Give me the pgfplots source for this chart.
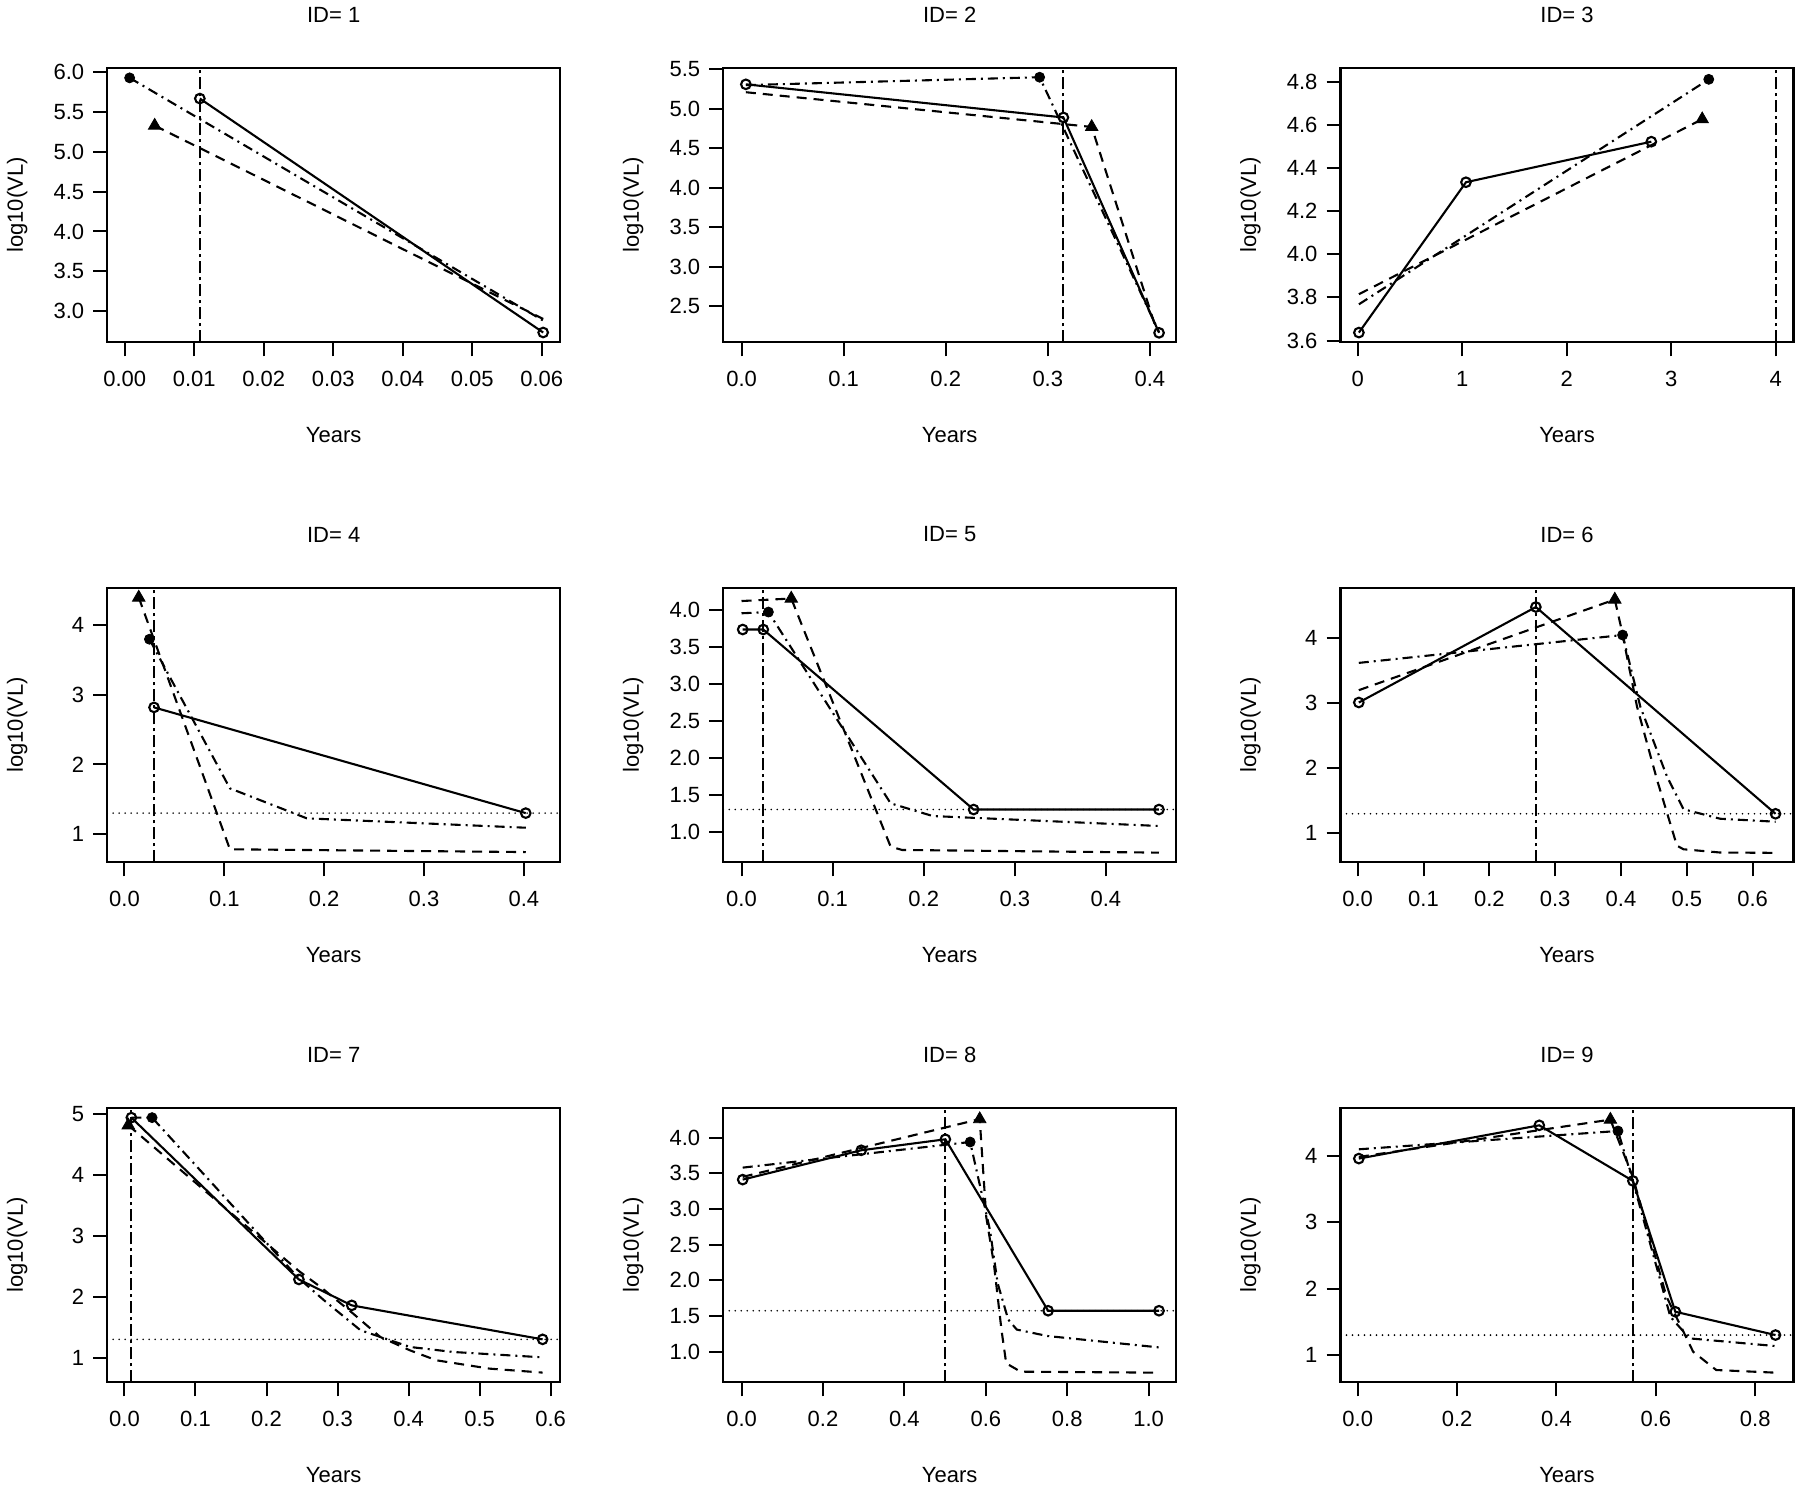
\documentclass[border=0pt]{standalone}
\usepackage{pgfplots}
\pgfplotsset{compat=1.18}
\usepackage{fontspec}
\setmainfont{Liberation Sans}

\pgfplotsset{
  vlpanel/.style={
    scale only axis, width=226.5pt, height=137.3pt, anchor=south west,
    font=\fontsize{11}{13}\selectfont,
    axis line style={line width=1.1pt},
    tick align=outside, major tick length=7pt,
    xtick pos=lower, ytick pos=left,
    scaled ticks=false,
    every tick/.style={black, line width=1pt},
    /pgf/number format/assume math mode=true,
    tick label style={font=\fontsize{11}{13}\selectfont},
    label style={font=\fontsize{11}{13}\selectfont},
    title style={font=\fontsize{11}{13}\selectfont, at={(axis description cs:0.5,1.150)}, anchor=center},
    xticklabel style={anchor=center, yshift=-11.2pt},
    yticklabel style={anchor=east, xshift=-1pt},
    xlabel={Years}, ylabel={log10(VL)},
    xlabel style={at={(axis description cs:0.5,-0.3376)}, anchor=center},
    ylabel style={at={(axis description cs:-0.1987,0.5)}, anchor=center},
  },
  obs/.style={black, line width=1.05pt, mark=o, mark size=2.4pt, mark options={solid}},
  fitA/.style={black, line width=1.05pt, dash pattern=on 5pt off 2.5pt on 1pt off 2.5pt},
  fitB/.style={black, line width=1.05pt, dash pattern=on 5pt off 3.5pt},
  ptA/.style={only marks, black, mark=*, mark size=2.5pt, mark options={solid}},
  ptB/.style={only marks, black, mark=triangle*, mark size=3.6pt, mark options={solid}},
  vref/.style={black, line width=1.05pt, dash pattern=on 6pt off 2pt on 1.5pt off 2pt},
  lod/.style={black, line width=0.9pt, line cap=round, dash pattern=on 0pt off 3pt},
}

\begin{document}
\begin{tikzpicture}
\useasboundingbox (0pt,0pt) rectangle (900pt,744.5pt);

% ---------------- ID 1 ----------------
\begin{axis}[vlpanel, at={(53.6pt,573.35pt)}, title={ID= 1},
  xmin=-0.00253, xmax=0.06265, ymin=2.607, ymax=6.058,
  xtick={0,0.01,0.02,0.03,0.04,0.05,0.06},
  xticklabels={0.00,0.01,0.02,0.03,0.04,0.05,0.06},
  ytick={3,3.5,4,4.5,5,5.5,6},
  yticklabels={3.0,3.5,4.0,4.5,5.0,5.5,6.0}]
\addplot[vref] coordinates {(0.0108,2.607) (0.0108,6.058)};
\addplot[fitA] coordinates {(0.0007,5.93) (0.0602,2.88)};
\addplot[fitB] coordinates {(0.0043,5.33) (0.0602,2.90)};
\addplot[obs] coordinates {(0.0108,5.67) (0.0602,2.73)};
\addplot[ptA] coordinates {(0.0007,5.93)};
\addplot[ptB] coordinates {(0.0043,5.33)};
\end{axis}

% ---------------- ID 2 ----------------
\begin{axis}[vlpanel, at={(361.6pt,573.35pt)}, title={ID= 2},
  xmin=-0.018, xmax=0.4258, ymin=2.04, ymax=5.521,
  xtick={0,0.1,0.2,0.3,0.4}, xticklabels={0.0,0.1,0.2,0.3,0.4},
  ytick={2.5,3,3.5,4,4.5,5,5.5},
  yticklabels={2.5,3.0,3.5,4.0,4.5,5.0,5.5}]
\addplot[vref] coordinates {(0.3153,2.04) (0.3153,5.521)};
\addplot[fitA] coordinates {(0.0042,5.30) (0.292,5.40) (0.409,2.17)};
\addplot[fitB] coordinates {(0.0042,5.21) (0.343,4.77) (0.4064,2.20)};
\addplot[obs] coordinates {(0.0042,5.31) (0.3153,4.89) (0.409,2.16)};
\addplot[ptA] coordinates {(0.292,5.40)};
\addplot[ptB] coordinates {(0.343,4.77)};
\end{axis}

% ---------------- ID 3 ----------------
\begin{axis}[vlpanel, at={(670.25pt,573.35pt)}, title={ID= 3},
  xmin=-0.165, xmax=4.171, ymin=3.592, ymax=4.865,
  xtick={0,1,2,3,4}, xticklabels={0,1,2,3,4},
  ytick={3.6,3.8,4.0,4.2,4.4,4.6,4.8},
  yticklabels={3.6,3.8,4.0,4.2,4.4,4.6,4.8}]
\addplot[vref] coordinates {(4.0,3.592) (4.0,4.865)};
\addplot[fitA] coordinates {(0.011,3.768) (3.36,4.811)};
\addplot[fitB] coordinates {(0.011,3.815) (3.297,4.626)};
\addplot[obs] coordinates {(0.011,3.637) (1.036,4.334) (2.81,4.522)};
\addplot[ptA] coordinates {(3.36,4.811)};
\addplot[ptB] coordinates {(3.297,4.626)};
\end{axis}

% ---------------- ID 4 ----------------
\begin{axis}[vlpanel, at={(53.6pt,313.35pt)}, title={ID= 4},
  xmin=-0.0173, xmax=0.4364, ymin=0.593, ymax=4.541,
  xtick={0,0.1,0.2,0.3,0.4}, xticklabels={0.0,0.1,0.2,0.3,0.4},
  ytick={1,2,3,4}, yticklabels={1,2,3,4}]
\addplot[lod] coordinates {(-0.0173,1.30) (0.4364,1.30)};
\addplot[vref] coordinates {(0.0296,0.593) (0.0296,4.541)};
\addplot[fitA] coordinates {(0.025,3.80) (0.1056,1.656) (0.1826,1.225) (0.4019,1.09)};
\addplot[fitB] coordinates {(0.0143,4.40) (0.1056,0.78) (0.4019,0.74)};
\addplot[obs] coordinates {(0.0296,2.82) (0.4019,1.30)};
\addplot[ptA] coordinates {(0.025,3.80)};
\addplot[ptB] coordinates {(0.0143,4.40)};
\end{axis}

% ---------------- ID 5 ----------------
\begin{axis}[vlpanel, at={(361.6pt,313.35pt)}, title={ID= 5},
  xmin=-0.0201, xmax=0.4772, ymin=0.585, ymax=4.307,
  xtick={0,0.1,0.2,0.3,0.4}, xticklabels={0.0,0.1,0.2,0.3,0.4},
  ytick={1,1.5,2,2.5,3,3.5,4},
  yticklabels={1.0,1.5,2.0,2.5,3.0,3.5,4.0}]
\addplot[lod] coordinates {(-0.0201,1.30) (0.4772,1.30)};
\addplot[vref] coordinates {(0.0239,0.585) (0.0239,4.307)};
\addplot[fitA] coordinates {(0.0,3.96) (0.0295,3.977) (0.1637,1.384) (0.2099,1.212) (0.4583,1.077)};
\addplot[fitB] coordinates {(0.0,4.126) (0.0546,4.16) (0.1637,0.797) (0.1763,0.752) (0.4583,0.716)};
\addplot[obs] coordinates {(0.0013,3.74) (0.0239,3.74) (0.2548,1.30) (0.4583,1.30)};
\addplot[ptA] coordinates {(0.0295,3.977)};
\addplot[ptB] coordinates {(0.0546,4.16)};
\end{axis}

% ---------------- ID 6 ----------------
\begin{axis}[vlpanel, at={(670.25pt,313.35pt)}, title={ID= 6},
  xmin=-0.0261, xmax=0.6621, ymin=0.555, ymax=4.772,
  xtick={0,0.1,0.2,0.3,0.4,0.5,0.6},
  xticklabels={0.0,0.1,0.2,0.3,0.4,0.5,0.6},
  ytick={1,2,3,4}, yticklabels={1,2,3,4}]
\addplot[lod] coordinates {(-0.0261,1.30) (0.6621,1.30)};
\addplot[vref] coordinates {(0.2707,0.555) (0.2707,4.772)};
\addplot[fitA] coordinates {(0.0017,3.617) (0.4025,4.045) (0.4295,2.94) (0.47,1.87) (0.495,1.37) (0.5505,1.224) (0.635,1.178)};
\addplot[fitB] coordinates {(0.0017,3.198) (0.3906,4.59) (0.40,4.17) (0.4245,2.94) (0.4548,1.82) (0.485,0.81) (0.495,0.755) (0.5505,0.705) (0.635,0.70)};
\addplot[obs] coordinates {(0.0017,3.009) (0.2707,4.475) (0.6348,1.30)};
\addplot[ptA] coordinates {(0.4025,4.045)};
\addplot[ptB] coordinates {(0.3906,4.59)};
\end{axis}

% ---------------- ID 7 ----------------
\begin{axis}[vlpanel, at={(53.6pt,53.35pt)}, title={ID= 7},
  xmin=-0.0243, xmax=0.6135, ymin=0.596, ymax=5.098,
  xtick={0,0.1,0.2,0.3,0.4,0.5,0.6},
  xticklabels={0.0,0.1,0.2,0.3,0.4,0.5,0.6},
  ytick={1,2,3,4,5}, yticklabels={1,2,3,4,5}]
\addplot[lod] coordinates {(-0.0243,1.30) (0.6135,1.30)};
\addplot[vref] coordinates {(0.0097,0.596) (0.0097,5.098)};
\addplot[fitA] coordinates {(0.0097,4.935) (0.0389,4.935) (0.2456,2.30) (0.28,1.95) (0.3322,1.45) (0.4022,1.175) (0.4627,1.093) (0.5887,1.005)};
\addplot[fitB] coordinates {(0.0054,4.81) (0.2456,2.42) (0.276,2.16) (0.3222,1.72) (0.36,1.34) (0.402,1.12) (0.439,0.957) (0.514,0.82) (0.5887,0.755)};
\addplot[obs] coordinates {(0.0097,4.935) (0.2456,2.282) (0.32,1.857) (0.5887,1.30)};
\addplot[ptA] coordinates {(0.0389,4.935)};
\addplot[ptB] coordinates {(0.0054,4.81)};
\end{axis}

% ---------------- ID 8 ----------------
\begin{axis}[vlpanel, at={(361.6pt,53.35pt)}, title={ID= 8},
  xmin=-0.0451, xmax=1.0676, ymin=0.571, ymax=4.42,
  xtick={0,0.2,0.4,0.6,0.8,1.0}, xticklabels={0.0,0.2,0.4,0.6,0.8,1.0},
  ytick={1,1.5,2,2.5,3,3.5,4},
  yticklabels={1.0,1.5,2.0,2.5,3.0,3.5,4.0}]
\addplot[lod] coordinates {(-0.0451,1.574) (1.0676,1.574)};
\addplot[vref] coordinates {(0.5006,0.571) (0.5006,4.42)};
\addplot[fitA] coordinates {(0.0028,3.58) (0.5615,3.939) (0.6103,2.70) (0.629,1.96) (0.655,1.45) (0.676,1.31) (0.751,1.22) (1.0254,1.06)};
\addplot[fitB] coordinates {(0.0028,3.45) (0.585,4.26) (0.601,2.89) (0.6197,2.236) (0.6385,1.303) (0.65,0.837) (0.6854,0.72) (1.0254,0.706)};
\addplot[obs] coordinates {(0.0028,3.412) (0.294,3.823) (0.5006,3.977) (0.753,1.574) (1.0254,1.574)};
\addplot[ptA] coordinates {(0.5615,3.939)};
\addplot[ptB] coordinates {(0.585,4.26)};
\end{axis}

% ---------------- ID 9 ----------------
\begin{axis}[vlpanel, at={(670.25pt,53.35pt)}, title={ID= 9},
  xmin=-0.0346, xmax=0.877, ymin=0.589, ymax=4.727,
  xtick={0,0.2,0.4,0.6,0.8}, xticklabels={0.0,0.2,0.4,0.6,0.8},
  ytick={1,2,3,4}, yticklabels={1,2,3,4}]
\addplot[lod] coordinates {(-0.0346,1.30) (0.877,1.30)};
\addplot[vref] coordinates {(0.5538,0.589) (0.5538,4.727)};
\addplot[fitA] coordinates {(0.0023,4.10) (0.5238,4.376) (0.5538,3.62) (0.6292,1.577) (0.6677,1.251) (0.8408,1.135)};
\addplot[fitB] coordinates {(0.0023,3.985) (0.5085,4.547) (0.5538,3.68) (0.6215,1.878) (0.675,1.05) (0.7215,0.774) (0.8408,0.734)};
\addplot[obs] coordinates {(0.0023,3.96) (0.3654,4.4615) (0.5538,3.624) (0.6392,1.652) (0.8408,1.301)};
\addplot[ptA] coordinates {(0.5238,4.376)};
\addplot[ptB] coordinates {(0.5085,4.547)};
\end{axis}
\end{tikzpicture}
\end{document}
